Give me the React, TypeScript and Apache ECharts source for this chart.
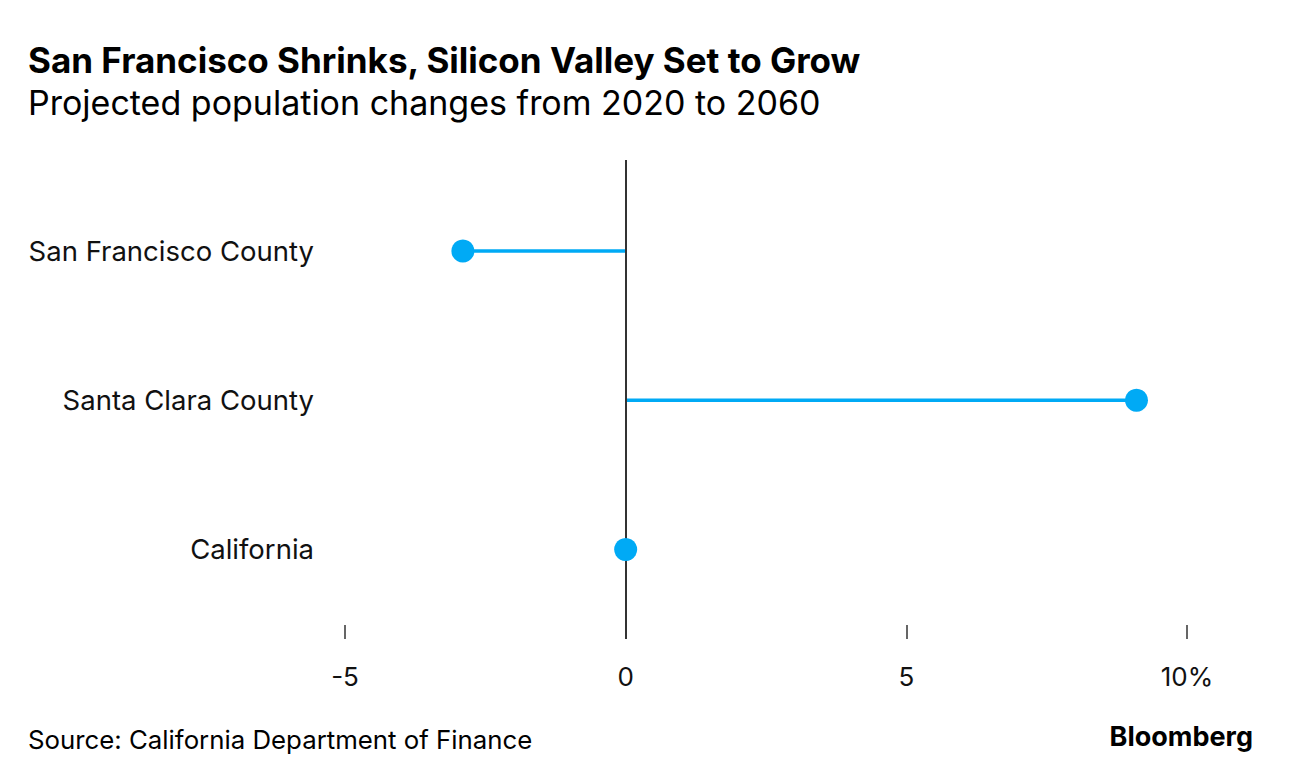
import React, { useEffect, useRef } from "react";
import * as echarts from "echarts";

const categories = ["San Francisco County", "Santa Clara County", "California"];
const values = [-2.9, 9.1, 0.0];
const xTicks = [-5, 0, 5, 10];
const xTickLabels = ["-5", "0", "5", "10%"];

const TITLE = "San Francisco Shrinks, Silicon Valley Set to Grow";
const SUBTITLE = "Projected population changes from 2020 to 2060";
const SOURCE = "Source: California Department of Finance";
const BRAND = "Bloomberg";

const BLUE = "#00aaf5";
const FONT = "Inter, 'Liberation Sans', Arial, sans-serif";

export default function App() {
  const ref = useRef<HTMLDivElement>(null);
  useEffect(() => {
    if (!ref.current) return;
    const chart = echarts.init(ref.current, null, { renderer: "svg" });
    const points = values.map((v, i) => [v, i]);
    chart.setOption({
      animation: false,
      backgroundColor: "#ffffff",
      textStyle: { fontFamily: FONT },
      grid: { left: 345, right: 105, top: 160, bottom: 145, containLabel: false },
      xAxis: {
        type: "value",
        min: -5,
        max: 10,
        interval: 5,
        axisLine: { show: false, onZero: false },
        splitLine: { show: false },
        axisTick: { show: true, inside: true, length: 14, lineStyle: { color: "#333", width: 1.5 } },
        axisLabel: {
          margin: 24,
          fontSize: 26,
          color: "#111",
          fontFamily: FONT,
          formatter: (v: number) => {
            const idx = xTicks.indexOf(v);
            return idx >= 0 ? xTickLabels[idx] : "";
          },
        },
      },
      yAxis: {
        type: "value",
        min: -0.61,
        max: 2.6,
        inverse: true,
        axisLine: { show: false, onZero: false },
        axisTick: { show: false },
        splitLine: { show: false },
        axisLabel: {
          customValues: categories.map((_, i) => i),
          margin: 31,
          fontSize: 27.5,
          color: "#111",
          fontFamily: FONT,
          formatter: (v: number) => categories[Math.round(v)] ?? "",
        },
      },
      series: [
        {
          type: "custom",
          data: points,
          z: 2,
          renderItem: (params: any, api: any) => {
            const v = api.value(0);
            const i = api.value(1);
            const p0 = api.coord([0, i]);
            const p1 = api.coord([v, i]);
            return {
              type: "line",
              shape: { x1: p0[0], y1: p0[1], x2: p1[0], y2: p1[1] },
              style: { stroke: BLUE, lineWidth: 3.5 },
            };
          },
        },
        {
          type: "scatter",
          data: points,
          symbolSize: 23,
          z: 4,
          itemStyle: { color: BLUE, opacity: 1 },
          markLine: {
            silent: true,
            symbol: "none",
            label: { show: false },
            lineStyle: { color: "#333", width: 2, type: "solid" },
            data: [{ xAxis: 0 }],
            z: 3,
          },
        },
      ],
      graphic: [
        {
          type: "text",
          left: 28,
          top: 42,
          style: { text: TITLE, font: `bold 35px ${FONT}`, fill: "#000" },
        },
        {
          type: "text",
          left: 28,
          top: 85,
          style: { text: SUBTITLE, font: `34px ${FONT}`, fill: "#000" },
        },
        {
          type: "text",
          left: 28,
          top: 726,
          style: { text: SOURCE, font: `25.8px ${FONT}`, fill: "#000" },
        },
        {
          type: "text",
          right: 39,
          top: 723,
          style: { text: BRAND, font: `bold 27px ${FONT}`, fill: "#000" },
        },
      ],
    });
    return () => chart.dispose();
  }, []);
  return <div ref={ref} style={{ position: "fixed", left: 0, top: 0, width: 1292, height: 784 }} />;
}
